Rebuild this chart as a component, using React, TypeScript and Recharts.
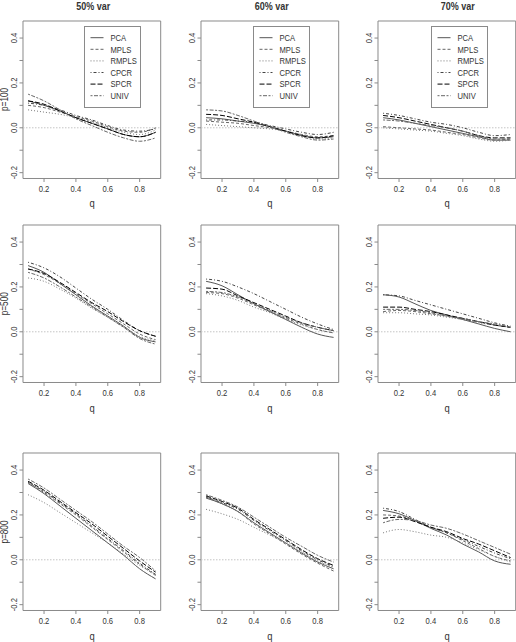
import { Legend, Line, LineChart, ReferenceArea, ReferenceLine, XAxis, YAxis } from 'recharts';

const Q = [0.1, 0.2, 0.3, 0.4, 0.5, 0.6, 0.7, 0.8, 0.9];
const METHODS = ['PCA', 'MPLS', 'RMPLS', 'CPCR', 'SPCR', 'UNIV'];
const COL_TITLES = ['50% var', '60% var', '70% var'];
const ROW_TITLES = ['p=100', 'p=500', 'p=800'];
const X_LABEL = 'q';
const X_TICKS = [0.2, 0.4, 0.6, 0.8];
const Y_TICKS = [-0.2, -0.1, 0, 0.1, 0.2, 0.3, 0.4];
// R's xlim/ylim with the 4% extension
const Q_DOMAIN = [0.068, 0.932];
const Y_DOMAIN = [-0.226, 0.476];

// p=100
const P100_V50 = {
  PCA: [0.12, 0.1, 0.075, 0.045, 0.02, -0.005, -0.03, -0.04, -0.02],
  MPLS: [0.1, 0.09, 0.07, 0.05, 0.03, 0.005, -0.015, -0.02, 0.0],
  RMPLS: [0.08, 0.07, 0.06, 0.045, 0.025, 0.0, -0.02, -0.03, -0.01],
  CPCR: [0.11, 0.1, 0.08, 0.055, 0.035, 0.01, -0.01, -0.015, -0.005],
  SPCR: [0.12, 0.105, 0.075, 0.045, 0.02, -0.005, -0.03, -0.04, -0.02],
  UNIV: [0.15, 0.12, 0.08, 0.04, 0.01, -0.02, -0.045, -0.06, -0.045],
};
const P100_V60 = {
  PCA: [0.045, 0.04, 0.03, 0.02, 0.005, -0.015, -0.035, -0.045, -0.04],
  MPLS: [0.03, 0.025, 0.02, 0.01, 0.0, -0.015, -0.03, -0.04, -0.035],
  RMPLS: [0.015, 0.01, 0.005, 0.0, -0.005, -0.015, -0.03, -0.05, -0.045],
  CPCR: [0.035, 0.035, 0.03, 0.025, 0.01, -0.005, -0.02, -0.03, -0.02],
  SPCR: [0.06, 0.055, 0.04, 0.025, 0.005, -0.015, -0.035, -0.045, -0.035],
  UNIV: [0.08, 0.075, 0.055, 0.03, 0.005, -0.02, -0.04, -0.055, -0.05],
};
const P100_V70 = {
  PCA: [0.045, 0.035, 0.02, 0.005, -0.01, -0.025, -0.04, -0.055, -0.055],
  MPLS: [0.005, 0.0, -0.005, -0.01, -0.02, -0.03, -0.045, -0.055, -0.05],
  RMPLS: [0.0, -0.005, -0.01, -0.015, -0.025, -0.035, -0.05, -0.06, -0.055],
  CPCR: [0.065, 0.055, 0.04, 0.025, 0.015, 0.0, -0.02, -0.035, -0.03],
  SPCR: [0.055, 0.045, 0.03, 0.015, 0.0, -0.015, -0.035, -0.045, -0.045],
  UNIV: [0.035, 0.03, 0.02, 0.01, 0.0, -0.015, -0.035, -0.05, -0.05],
};

// p=500
const P500_V50 = {
  PCA: [0.295, 0.265, 0.215, 0.165, 0.115, 0.07, 0.025, -0.025, -0.045],
  MPLS: [0.28, 0.255, 0.215, 0.17, 0.125, 0.08, 0.035, -0.01, -0.035],
  RMPLS: [0.24, 0.225, 0.19, 0.15, 0.105, 0.065, 0.02, -0.02, -0.04],
  CPCR: [0.31, 0.285, 0.245, 0.195, 0.145, 0.1, 0.05, 0.005, -0.02],
  SPCR: [0.28, 0.26, 0.22, 0.175, 0.13, 0.09, 0.045, 0.005, -0.02],
  UNIV: [0.265, 0.24, 0.2, 0.155, 0.11, 0.065, 0.02, -0.03, -0.055],
};
const P500_V60 = {
  PCA: [0.225, 0.205, 0.165, 0.125, 0.09, 0.055, 0.02, -0.01, -0.025],
  MPLS: [0.175, 0.17, 0.15, 0.12, 0.09, 0.06, 0.035, 0.01, -0.005],
  RMPLS: [0.17, 0.16, 0.14, 0.11, 0.085, 0.055, 0.03, 0.01, -0.005],
  CPCR: [0.235, 0.225, 0.2, 0.17, 0.135, 0.1, 0.065, 0.035, 0.01],
  SPCR: [0.195, 0.19, 0.16, 0.13, 0.1, 0.07, 0.04, 0.02, 0.005],
  UNIV: [0.18, 0.175, 0.155, 0.125, 0.095, 0.065, 0.04, 0.02, 0.005],
};
const P500_V70 = {
  PCA: [0.165, 0.155, 0.125, 0.095, 0.075, 0.055, 0.035, 0.015, 0.0],
  MPLS: [0.09, 0.095, 0.09, 0.08, 0.07, 0.055, 0.045, 0.03, 0.02],
  RMPLS: [0.085, 0.085, 0.08, 0.075, 0.065, 0.055, 0.04, 0.03, 0.02],
  CPCR: [0.165, 0.16, 0.14, 0.12, 0.1, 0.08, 0.06, 0.04, 0.025],
  SPCR: [0.11, 0.11, 0.1, 0.09, 0.075, 0.06, 0.045, 0.03, 0.02],
  UNIV: [0.1, 0.1, 0.095, 0.085, 0.07, 0.06, 0.045, 0.035, 0.02],
};

// p=800
const P800_V50 = {
  PCA: [0.34, 0.295, 0.24, 0.185, 0.13, 0.075, 0.02, -0.04, -0.085],
  MPLS: [0.345, 0.3, 0.25, 0.2, 0.145, 0.09, 0.035, -0.02, -0.07],
  RMPLS: [0.29, 0.255, 0.21, 0.165, 0.12, 0.075, 0.025, -0.025, -0.065],
  CPCR: [0.345, 0.305, 0.255, 0.205, 0.15, 0.095, 0.04, -0.015, -0.065],
  SPCR: [0.35, 0.31, 0.26, 0.21, 0.16, 0.105, 0.05, -0.005, -0.055],
  UNIV: [0.36, 0.32, 0.27, 0.22, 0.17, 0.115, 0.06, 0.01, -0.05],
};
const P800_V60 = {
  PCA: [0.275, 0.25, 0.215, 0.165, 0.12, 0.075, 0.03, -0.01, -0.04],
  MPLS: [0.28, 0.25, 0.215, 0.16, 0.115, 0.07, 0.025, -0.015, -0.05],
  RMPLS: [0.225, 0.205, 0.18, 0.145, 0.11, 0.075, 0.035, -0.005, -0.035],
  CPCR: [0.28, 0.255, 0.225, 0.175, 0.13, 0.085, 0.04, 0.0, -0.03],
  SPCR: [0.285, 0.26, 0.23, 0.18, 0.135, 0.09, 0.045, 0.005, -0.025],
  UNIV: [0.29, 0.265, 0.235, 0.19, 0.145, 0.1, 0.06, 0.02, -0.01],
};
const P800_V70 = {
  PCA: [0.22, 0.205, 0.175, 0.14, 0.11, 0.07, 0.035, -0.005, -0.02],
  MPLS: [0.2, 0.195, 0.175, 0.145, 0.12, 0.085, 0.05, 0.015, -0.005],
  RMPLS: [0.12, 0.135, 0.125, 0.11, 0.1, 0.075, 0.045, 0.015, -0.01],
  CPCR: [0.23, 0.215, 0.18, 0.145, 0.12, 0.09, 0.06, 0.03, 0.005],
  SPCR: [0.185, 0.19, 0.17, 0.145, 0.125, 0.095, 0.07, 0.04, 0.01],
  UNIV: [0.165, 0.18, 0.175, 0.155, 0.14, 0.115, 0.085, 0.055, 0.025],
};

const PANELS = [
  [P100_V50, P100_V60, P100_V70],
  [P500_V50, P500_V60, P500_V70],
  [P800_V50, P800_V60, P800_V70],
];

// R lty 1..6, drawn small
const LINE_STYLE: Record<string, { stroke: string; dash?: string }> = {
  PCA: { stroke: '#555' },
  MPLS: { stroke: '#666', dash: '3 2' },
  RMPLS: { stroke: '#777', dash: '1 2' },
  CPCR: { stroke: '#444', dash: '1 2 3 2' },
  SPCR: { stroke: '#000', dash: '5 2' },
  UNIV: { stroke: '#666', dash: '2 1.5 4 1.5' },
};

const FONT = '"Liberation Sans", Arial, sans-serif';
const TEXT = '#333';
const BOX = '#8a8a8a';

const COL_LEFT = [23.3, 201, 378.3];
const ROW_TOP = [20.7, 225, 453.3];
const TITLE_X = [93.3, 271.7, 457.7];
const LEGEND_LEFT = [84.3, 253.3, 431.3];
const BOX_W = 137.7;
const BOX_H = 157.5;
const ML = 30;
const MT = 4;
const MR = 4;
const MB = 20;

// Helvetica Narrow look: Liberation Sans squeezed to 82%
function NText({ x, y, size = 9.3, rotate = 0, anchor = 'middle', bold = false, children }: any) {
  return (
    <text
      transform={`translate(${x},${y}) rotate(${rotate}) scale(0.82,1)`}
      textAnchor={anchor}
      fontSize={size}
      fontFamily={FONT}
      fontWeight={bold ? 'bold' : 'normal'}
      fill={TEXT}
    >
      {children}
    </text>
  );
}

function LegendBox() {
  return (
    <svg width={57} height={82} style={{ display: 'block' }}>
      <rect x={0.5} y={0.5} width={56} height={81} fill="#fff" stroke={BOX} />
      {METHODS.map((m, i) => {
        const y = 11.7 + i * 11.6;
        const s = LINE_STYLE[m];
        return (
          <g key={m}>
            <line x1={6.5} x2={19.5} y1={y} y2={y} stroke={s.stroke} strokeDasharray={s.dash} />
            <NText x={26.5} y={y + 3.3} anchor="start">{m}</NText>
          </g>
        );
      })}
    </svg>
  );
}

function Panel({ row, col }: { row: number; col: number }) {
  const d = PANELS[row][col] as Record<string, number[]>;
  const data = Q.map((q, i) => {
    const r: Record<string, number> = { q };
    METHODS.forEach((m) => (r[m] = d[m][i]));
    return r;
  });
  const left = COL_LEFT[col] - ML;
  const top = ROW_TOP[row] - MT;
  const boxBottom = MT + BOX_H;

  const xTick = (p: any) => (
    <NText x={p.x} y={boxBottom + 14}>{p.payload.value.toFixed(1)}</NText>
  );
  const yTick = (p: any) => {
    const v = p.payload.value;
    if (Math.round(v * 10) % 2 !== 0) return <g />;
    return (
      <NText x={ML - 6} y={p.y} rotate={-90}>{v.toFixed(1)}</NText>
    );
  };

  return (
    <div style={{ position: 'absolute', left, top }}>
      <LineChart width={ML + BOX_W + MR} height={MT + BOX_H + MB} data={data} margin={{ top: MT, right: MR, left: 0, bottom: 0 }}>
        <XAxis
          dataKey="q"
          type="number"
          domain={Q_DOMAIN}
          ticks={X_TICKS}
          interval={0}
          allowDataOverflow
          height={MB}
          axisLine={false}
          tickLine={{ stroke: BOX }}
          tickSize={3.5}
          tick={xTick}
        />
        <YAxis
          type="number"
          domain={Y_DOMAIN}
          ticks={Y_TICKS}
          interval={0}
          allowDataOverflow
          width={ML}
          axisLine={false}
          tickLine={{ stroke: BOX }}
          tickSize={3.5}
          tick={yTick}
        />
        <ReferenceArea x1={Q_DOMAIN[0]} x2={Q_DOMAIN[1]} y1={Y_DOMAIN[0]} y2={Y_DOMAIN[1]} fill="none" stroke={BOX} ifOverflow="visible" />
        <ReferenceLine y={0} stroke="#c4c4c4" strokeDasharray="1.5 1.5" />
        {METHODS.map((m) => (
          <Line
            key={m}
            dataKey={m}
            type="monotone"
            stroke={LINE_STYLE[m].stroke}
            strokeDasharray={LINE_STYLE[m].dash}
            strokeWidth={1}
            dot={false}
            activeDot={false}
            isAnimationActive={false}
          />
        ))}
        {row === 0 && (
          <Legend
            layout="vertical"
            align="center"
            verticalAlign="middle"
            content={() => <LegendBox />}
            wrapperStyle={{ left: LEGEND_LEFT[col] - left, top: 26 - ROW_TOP[0] + MT, width: 57, height: 82 }}
          />
        )}
      </LineChart>
    </div>
  );
}

export default function App() {
  return (
    <div style={{ position: 'absolute', left: 0, top: 0, width: 516, height: 642, overflow: 'hidden', background: '#fff' }}>
      {[0, 1, 2].map((r) => [0, 1, 2].map((c) => <Panel key={`${r}-${c}`} row={r} col={c} />))}
      <svg width={516} height={642} style={{ position: 'absolute', left: 0, top: 0, pointerEvents: 'none' }}>
        {COL_TITLES.map((t, i) => (
          <NText key={t} x={TITLE_X[i]} y={10} size={11} bold>{t}</NText>
        ))}
        {ROW_TITLES.map((t, r) => (
          <NText key={t} x={7.5} y={ROW_TOP[r] + BOX_H / 2} size={10} rotate={-90}>{t}</NText>
        ))}
        {ROW_TOP.map((rt, r) =>
          COL_LEFT.map((cl, c) => (
            <NText key={`q${r}${c}`} x={cl + BOX_W / 2} y={rt + BOX_H + 29} size={11.5}>{X_LABEL}</NText>
          )),
        )}
      </svg>
    </div>
  );
}
